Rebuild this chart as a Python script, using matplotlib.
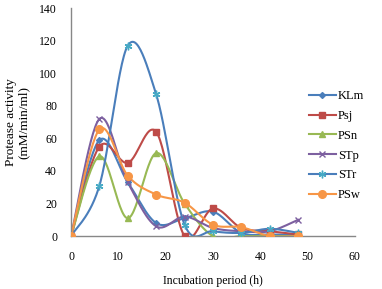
import numpy as np
import matplotlib
matplotlib.use("Agg")
import matplotlib.pyplot as plt
from matplotlib.lines import Line2D

plt.rcParams["font.family"] = ["Liberation Serif", "DejaVu Serif"]

hours = [0, 6, 12, 18, 24, 30, 36, 42, 48]
klm = [0, 59, 33, 8, 11, 15, 2, 1, 1]
psj = [0, 55, 45, 64, 0, 17, 5, 3, 1]
psn = [0, 49, 11, 51, 20, 0, 0, 0, 0]
stp = [0, 72, 33, 6, 12, 5, 3, 3, 10]
strr = [0, 31, 117, 87, 7, 3, 2, 4.5, 2]
psw = [0, 65.5, 37, 25.5, 20.5, 7, 5.5, 0, 0]

# (name, values, line colour, marker, marker colour, marker size)
series = [
    ("KLm", klm, "#4A7EBB", "D", "#4A7EBB", 3),
    ("Psj", psj, "#BE4B48", "s", "#BE4B48", 4.5),
    ("PSn", psn, "#98B954", "^", "#98B954", 5),
    ("STp", stp, "#7D60A0", "x", "#7D60A0", 4.5),
    ("STr", strr, "#4A7EBB", (6, 2, 0), "#46AAC5", 5.5),
    ("PSw", psw, "#F79646", "o", "#F79646", 5.5),
]


def smooth(x, y, n=30):
    # excel-style smoothed line: catmull-rom through the points
    x = np.asarray(x, float); y = np.asarray(y, float)
    px = np.concatenate([[x[0]], x, [x[-1]]])
    py = np.concatenate([[y[0]], y, [y[-1]]])
    t = np.linspace(0, 1, n)
    xs, ys = [], []
    for i in range(1, len(px) - 2):
        p0, p1, p2, p3 = i - 1, i, i + 1, i + 2
        for arr, out in ((px, xs), (py, ys)):
            b0 = arr[p1]
            b1 = arr[p1] + (arr[p2] - arr[p0]) / 6
            b2 = arr[p2] - (arr[p3] - arr[p1]) / 6
            b3 = arr[p2]
            out.extend((1 - t) ** 3 * b0 + 3 * (1 - t) ** 2 * t * b1
                       + 3 * (1 - t) * t ** 2 * b2 + t ** 3 * b3)
    return xs, ys


fig = plt.figure(figsize=(3.82, 2.89), dpi=100)
ax = fig.add_axes([0.186, 0.183, 0.743, 0.789])

handles = []
for name, vals, lc, mk, mc, ms in series:
    sx, sy = smooth(hours, vals)
    ax.plot(sx, sy, color=lc, lw=1.5, zorder=2)
    ax.plot(hours, vals, ls="none", marker=mk, color=mc, ms=ms,
            mew=1.0, zorder=3)
    handles.append(Line2D([0], [0], color=lc, lw=1.5, marker=mk,
                          markerfacecolor=mc, markeredgecolor=mc, ms=ms))

ax.set_xlim(0, 60)
ax.set_ylim(0, 140)
ax.set_xticks(range(0, 61, 10))
ax.set_yticks(range(0, 141, 20))
ax.tick_params(length=0, labelsize=8.5)
ax.tick_params(axis="x", pad=11)
ax.tick_params(axis="y", pad=10)
for s in ("top", "right"):
    ax.spines[s].set_visible(False)
for s in ("left", "bottom"):
    ax.spines[s].set_color("#878787")
    ax.spines[s].set_linewidth(1.0)

ax.set_xlabel("Incubation period (h)", fontsize=8.5, labelpad=8)
ax.set_ylabel("Protease activity\n(mM/min/ml)", fontsize=9.5, labelpad=7,
              linespacing=1.1)

fig.legend(handles, [s[0] for s in series], loc="upper left",
           bbox_to_anchor=(0.795, 0.705), frameon=False, fontsize=9,
           handlelength=2.2, handletextpad=0.15, labelspacing=0.62,
           borderaxespad=0)

fig.savefig("out.png", dpi=100)
